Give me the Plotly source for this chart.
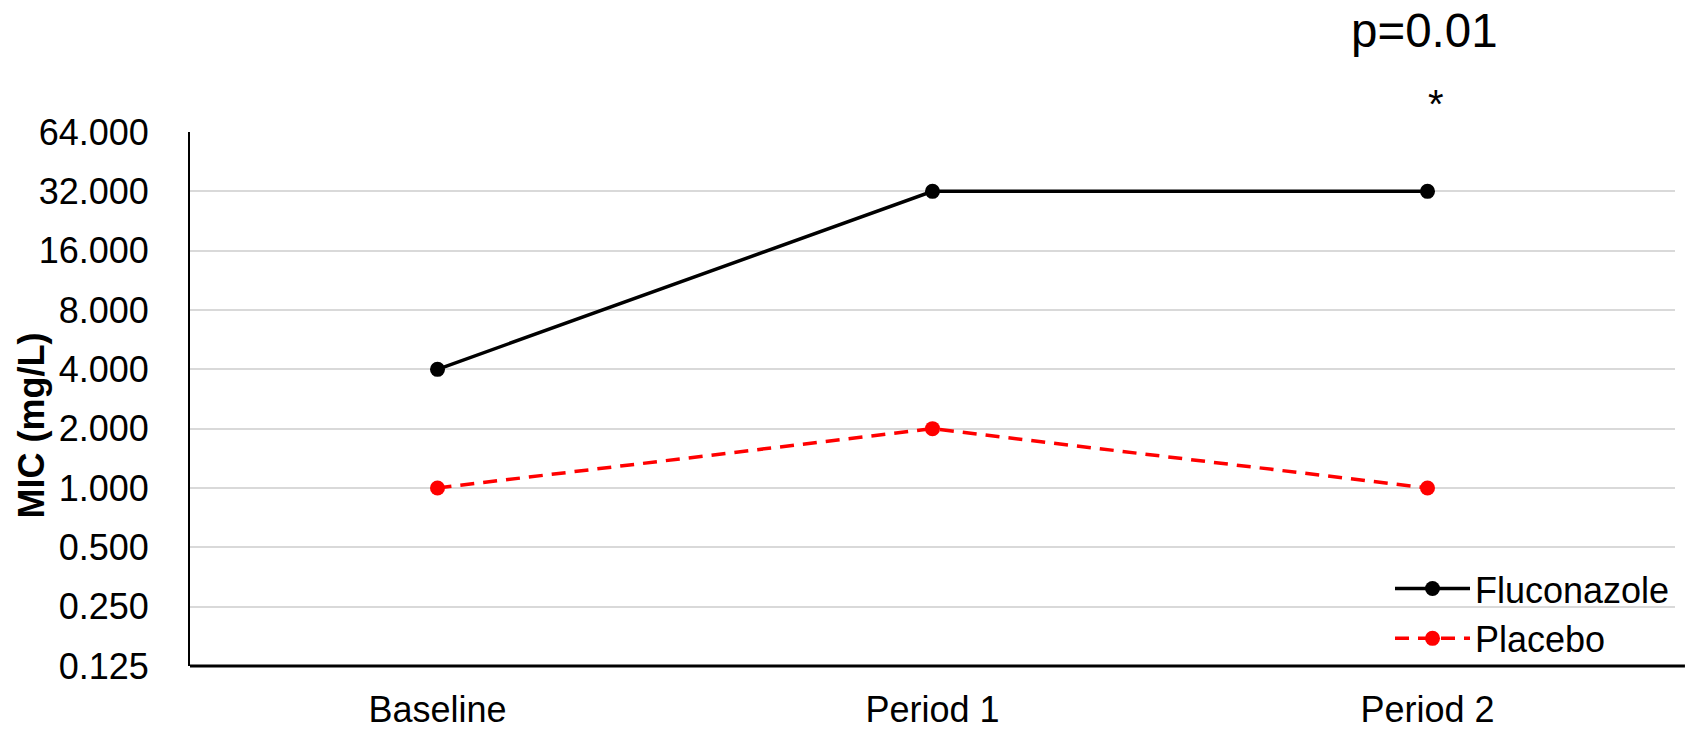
import plotly.graph_objects as go
import math

# Data
periods = ["Baseline", "Period 1", "Period 2"]
fluconazole_mic = [4, 32, 32]
placebo_mic = [1, 2, 1]
tick_values = [0.125, 0.25, 0.5, 1, 2, 4, 8, 16, 32, 64]
tick_labels = ["0.125", "0.250", "0.500", "1.000", "2.000", "4.000",
               "8.000", "16.000", "32.000", "64.000"]

FONT = "Arial, Liberation Sans, sans-serif"

fig = go.Figure()
fig.add_trace(go.Scatter(
    x=periods, y=fluconazole_mic, name="Fluconazole", mode="lines+markers",
    line=dict(color="black", width=3.5),
    marker=dict(color="black", size=15),
))
fig.add_trace(go.Scatter(
    x=periods, y=placebo_mic, name="Placebo", mode="lines+markers",
    line=dict(color="#ff0000", width=3.5, dash="14px,9px"),
    marker=dict(color="#ff0000", size=15),
))

fig.update_layout(
    width=1685, height=729,
    margin=dict(l=190, r=10, t=132, b=63, autoexpand=False),
    paper_bgcolor="white", plot_bgcolor="white",
    font=dict(family=FONT, size=36, color="black"),
    showlegend=True,
    legend=dict(
        x=1.0, xanchor="right", y=0.201, yanchor="top",
        bgcolor="rgba(0,0,0,0)", font=dict(size=36),
        itemwidth=75, tracegroupgap=0,
    ),
    xaxis=dict(
        type="category", range=[-0.5, 2.5], automargin=False,
        showgrid=False, showline=False, zeroline=False,
        ticks="", ticklabelstandoff=19,
        tickfont=dict(size=36),
    ),
    yaxis=dict(
        type="log", range=[math.log10(0.125), math.log10(64)],
        automargin=False,
        tickvals=tick_values, ticktext=tick_labels,
        showgrid=True, gridcolor="#d9d9d9", gridwidth=2,
        showline=True, linecolor="black", linewidth=2,
        zeroline=False, ticks="", ticklabelstandoff=32,
        tickfont=dict(size=36),
    ),
    shapes=[
        # horizontal axis line, running slightly past the plot edge
        dict(type="line", xref="paper", yref="paper",
             x0=0, x1=1.0067, y0=0, y1=0,
             line=dict(color="black", width=3)),
    ],
    annotations=[
        dict(text="<b>MIC (mg/L)</b>", textangle=-90,
             xref="paper", yref="paper", x=-0.1065, y=0.45,
             xanchor="center", yanchor="middle", showarrow=False,
             font=dict(size=36)),
        dict(text="p=0.01", xref="x", yref="paper", x="Period 2", y=1.19,
             xanchor="center", yanchor="middle", showarrow=False,
             xshift=-3, font=dict(size=47.5)),
        dict(text="*", xref="x", yref="paper", x="Period 2", y=1.052,
             xanchor="center", yanchor="middle", showarrow=False,
             xshift=8, font=dict(size=40)),
    ],
)

fig.write_html("out.html")
